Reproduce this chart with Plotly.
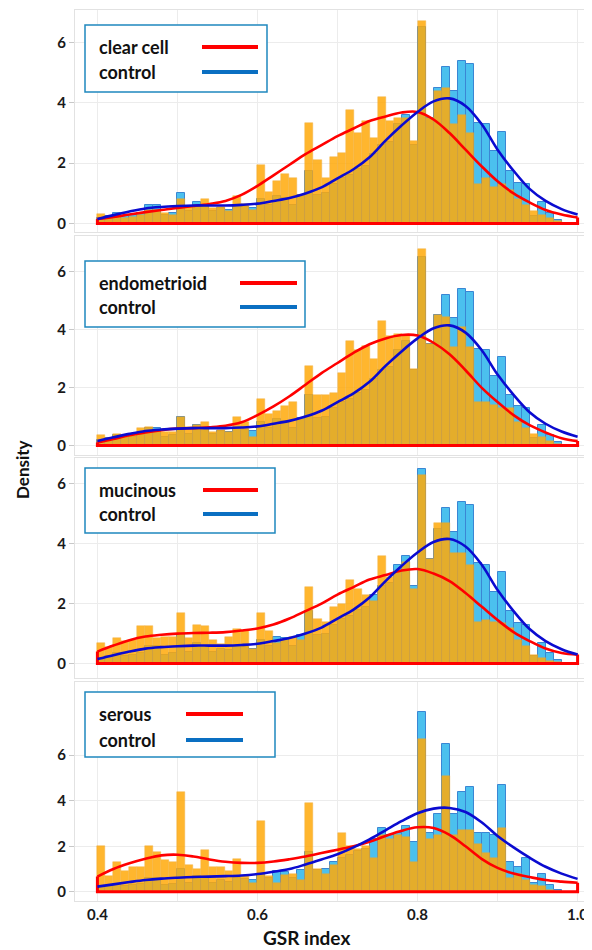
import plotly.graph_objects as go
from plotly.subplots import make_subplots

# ---------------- data ----------------
bin_left = [0.40, 0.41, 0.42, 0.43, 0.44, 0.45, 0.46, 0.47, 0.48, 0.49,
            0.50, 0.51, 0.52, 0.53, 0.54, 0.55, 0.56, 0.57, 0.58, 0.59,
            0.60, 0.61, 0.62, 0.63, 0.64, 0.65, 0.66, 0.67, 0.68, 0.69,
            0.70, 0.71, 0.72, 0.73, 0.74, 0.75, 0.76, 0.77, 0.78, 0.79,
            0.80, 0.81, 0.82, 0.83, 0.84, 0.85, 0.86, 0.87, 0.88, 0.89,
            0.90, 0.91, 0.92, 0.93, 0.94, 0.95, 0.96, 0.97, 0.98, 0.99]
bin_width = 0.01

control_hist = [0.2, 0.25, 0.35, 0.25, 0.3, 0.35, 0.6, 0.6, 0.3, 0.35,
                1.0, 0.4, 0.7, 0.6, 0.4, 0.5, 0.45, 0.6, 0.55, 0.5,
                0.8, 0.6, 0.9, 0.85, 0.6, 0.95, 1.75, 0.95, 1.0, 1.3,
                1.5, 1.6, 1.8, 1.9, 2.3, 2.6, 2.7, 3.3, 3.6, 2.6,
                6.5, 3.5, 4.5, 5.2, 4.4, 5.4, 5.3, 3.35, 3.3, 2.4,
                3.05, 1.75, 1.35, 1.3, 0.25, 0.7, 0.35, 0.12, 0.0, 0.0]

control_hist_serous = [0.2, 0.25, 0.35, 0.25, 0.3, 0.35, 0.6, 0.6, 0.3, 0.35,
                       1.0, 0.4, 0.7, 0.6, 0.4, 0.5, 0.45, 0.6, 0.55, 0.5,
                       0.8, 0.6, 0.9, 0.85, 0.6, 0.95, 1.75, 0.95, 1.0, 1.3,
                       1.5, 1.6, 1.8, 1.9, 2.3, 2.8, 2.5, 2.6, 2.9, 2.2,
                       7.9, 2.6, 3.4, 6.5, 3.4, 4.4, 4.6, 2.6, 2.6, 2.5,
                       4.7, 1.3, 1.1, 1.5, 0.4, 0.8, 0.3, 0.1, 0.0, 0.0]

clear_cell_hist = [0.32, 0.2, 0.27, 0.2, 0.22, 0.3, 0.45, 0.45, 0.35, 0.3,
                   0.8, 0.55, 0.6, 0.8, 0.5, 0.55, 0.4, 0.9, 0.65, 0.45,
                   1.95, 1.05, 1.42, 1.63, 1.52, 0.95, 3.35, 2.1, 1.5, 2.2,
                   2.35, 3.75, 3.0, 3.4, 2.85, 4.2, 3.4, 3.5, 3.5, 2.75,
                   6.7, 3.5, 4.4, 4.5, 3.3, 3.6, 3.0, 1.3, 1.5, 1.2,
                   1.3, 1.1, 0.8, 0.6, 0.4, 0.3, 0.2, 0.1, 0.0, 0.0]

endometrioid_hist = [0.35, 0.25, 0.4, 0.3, 0.35, 0.6, 0.65, 0.5, 0.45, 0.45,
                     1.0, 0.65, 0.7, 0.8, 0.45, 0.55, 0.45, 1.0, 0.8, 0.3,
                     1.6, 1.1, 1.2, 1.35, 1.5, 0.9, 2.75, 1.75, 1.75, 1.8,
                     2.5, 3.6, 3.3, 3.45, 3.0, 4.3, 3.8, 3.85, 3.8, 2.65,
                     6.8, 3.5, 4.5, 4.45, 3.4, 4.1, 3.4, 1.5, 1.5, 1.4,
                     1.3, 1.3, 0.8, 0.6, 0.4, 0.3, 0.15, 0.05, 0.0, 0.0]

mucinous_hist = [0.7, 0.55, 0.85, 0.75, 0.8, 1.25, 1.25, 0.85, 0.9, 0.9,
                 1.7, 0.85, 1.3, 1.25, 0.8, 0.65, 0.9, 1.15, 1.1, 0.5,
                 1.7, 1.1, 0.7, 0.8, 0.9, 0.8, 2.55, 1.5, 1.4, 1.9,
                 2.0, 2.8, 2.5, 2.3, 2.1, 3.6, 2.9, 3.1, 3.4, 2.5,
                 6.3, 3.5, 4.7, 4.7, 3.7, 3.7, 3.3, 1.4, 1.45, 1.4,
                 1.35, 1.2, 0.8, 0.6, 0.3, 0.2, 0.1, 0.05, 0.0, 0.0]

serous_hist = [2.0, 0.7, 1.3, 0.9, 1.1, 1.1, 2.0, 1.75, 1.4, 1.3,
               4.4, 1.2, 1.0, 1.85, 1.1, 1.1, 0.9, 1.45, 0.7, 0.4,
               3.1, 0.7, 0.4, 0.75, 0.8, 0.5, 3.9, 1.0, 0.8, 1.2,
               2.6, 2.0, 1.9, 2.0, 1.5, 2.5, 2.3, 2.5, 2.4, 1.3,
               6.7, 2.3, 2.5, 5.1, 2.5, 2.7, 2.7, 2.1, 1.7, 1.5,
               2.8, 0.6, 0.8, 0.5, 0.3, 0.25, 0.1, 0.05, 0.0, 0.0]

kde_x = [0.40, 0.42, 0.44, 0.46, 0.48, 0.50, 0.52, 0.54, 0.56, 0.58,
         0.60, 0.62, 0.64, 0.66, 0.68, 0.70, 0.72, 0.74, 0.76, 0.78,
         0.80, 0.82, 0.84, 0.86, 0.88, 0.90, 0.92, 0.94, 0.96, 0.98, 1.00]

control_kde = [0.15, 0.28, 0.4, 0.5, 0.55, 0.58, 0.6, 0.6, 0.6, 0.62,
               0.66, 0.75, 0.85, 1.0, 1.2, 1.5, 1.8, 2.2, 2.75, 3.25,
               3.7, 4.05, 4.15, 3.9, 3.3, 2.45, 1.75, 1.15, 0.75, 0.48, 0.3]

control_kde_serous = [0.23, 0.33, 0.43, 0.52, 0.58, 0.62, 0.65, 0.67, 0.69, 0.72,
                      0.78, 0.88, 1.0, 1.2, 1.42, 1.65, 1.95, 2.3, 2.7, 3.1,
                      3.45, 3.65, 3.68, 3.5, 3.05, 2.45, 1.95, 1.5, 1.1, 0.8, 0.57]

clear_cell_kde = [0.15, 0.22, 0.3, 0.38, 0.45, 0.52, 0.58, 0.65, 0.75, 0.95,
                  1.25, 1.6, 1.95, 2.3, 2.6, 2.9, 3.15, 3.4, 3.55, 3.68,
                  3.7, 3.45, 3.0, 2.45, 1.9, 1.4, 1.0, 0.7, 0.45, 0.3, 0.2]

endometrioid_kde = [0.1, 0.22, 0.35, 0.45, 0.53, 0.58, 0.6, 0.63, 0.68, 0.8,
                    1.05, 1.35, 1.7, 2.1, 2.5, 2.85, 3.2, 3.5, 3.7, 3.82,
                    3.8, 3.55, 3.15, 2.6, 2.0, 1.5, 1.05, 0.7, 0.45, 0.25, 0.15]

mucinous_kde = [0.4, 0.6, 0.78, 0.9, 0.96, 1.0, 1.02, 1.03, 1.05, 1.1,
                1.17, 1.3, 1.5, 1.75, 2.0, 2.3, 2.55, 2.8, 2.95, 3.1,
                3.15, 3.0, 2.75, 2.35, 1.9, 1.45, 1.05, 0.75, 0.5, 0.35, 0.3]

serous_kde = [0.67, 1.0, 1.25, 1.45, 1.6, 1.63, 1.55, 1.42, 1.32, 1.27,
              1.27, 1.33, 1.43, 1.55, 1.7, 1.85, 2.0, 2.2, 2.45, 2.68,
              2.83, 2.8, 2.5, 2.0, 1.45, 1.05, 0.8, 0.65, 0.52, 0.45, 0.4]

subtype_names = ["clear cell", "endometrioid", "mucinous", "serous"]
control_name = "control"

x_tick_vals = [0.4, 0.5, 0.6, 0.7, 0.8, 0.9, 1.0]
x_tick_text = ["0.4", "", "0.6", "", "0.8", "", "1.0"]
y_tick_vals = [0, 2, 4, 6]
y_tick_text = ["0", "2", "4", "6"]

# ---------------- layout helpers ----------------
# The page body adds an 8px margin; the figure is sized so it still fits 592x950.
OFF = 8
W, H = 592 - OFF, 950 - OFF
ML, MR, MT, MB = 75 - OFF, 0, 10 - OFF, 49
PW, PH = W - ML - MR, H - MT - MB
BOTTOM = H - MB + OFF  # window y of the plotting-area bottom


def fx(px):  # px in window coordinates
    return (px - OFF - ML) / PW


def fy(py):  # py in window coordinates
    return (BOTTOM - py) / PH


panel_px = [(10, 232), (236, 455), (458, 678), (682, BOTTOM)]
panel_yrange = [(-0.28, 7.08), (-0.33, 7.24), (-0.48, 6.85), (-0.4, 9.2)]

panels = [
    (clear_cell_hist, control_hist, clear_cell_kde, control_kde),
    (endometrioid_hist, control_hist, endometrioid_kde, control_kde),
    (mucinous_hist, control_hist, mucinous_kde, control_kde),
    (serous_hist, control_hist_serous, serous_kde, control_kde_serous),
]

FONT = "Lato"
RED = "#FF0000"
BLUE_CURVE = "#0B0BD0"
BLUE_LEG = "#0A6FC2"

fig = make_subplots(rows=4, cols=1, shared_xaxes=True, vertical_spacing=0.004)

for i, (sub_h, ctl_h, sub_k, ctl_k) in enumerate(panels, start=1):
    fig.add_trace(go.Bar(x=bin_left, y=ctl_h, width=bin_width, offset=0,
                         marker=dict(color="#4BC0EE", line=dict(color="#3A86D4", width=1)),
                         showlegend=False), row=i, col=1)
    fig.add_trace(go.Bar(x=bin_left, y=sub_h, width=bin_width, offset=0,
                         marker=dict(color="#FFAA0A", line=dict(color="#F2A72A", width=0.5)),
                         opacity=0.85, showlegend=False), row=i, col=1)
    # closing outline of the subtype density (sides + baseline)
    fig.add_trace(go.Scatter(x=[kde_x[0], kde_x[0], kde_x[-1], kde_x[-1]],
                             y=[sub_k[0], 0, 0, sub_k[-1]], mode="lines",
                             line=dict(color=RED, width=3), showlegend=False), row=i, col=1)
    fig.add_trace(go.Scatter(x=kde_x, y=sub_k, mode="lines", line_shape="spline",
                             line=dict(color=RED, width=2.6), showlegend=False), row=i, col=1)
    fig.add_trace(go.Scatter(x=kde_x, y=ctl_k, mode="lines", line_shape="spline",
                             line=dict(color=BLUE_CURVE, width=2.6), showlegend=False), row=i, col=1)

tickfont = dict(family=FONT, size=15, color="#1a1a1a", weight="bold")

for i in range(1, 5):
    top, bot = panel_px[i - 1]
    xa = "xaxis" if i == 1 else f"xaxis{i}"
    ya = "yaxis" if i == 1 else f"yaxis{i}"
    fig.layout[xa].update(range=[0.372, 1.018], tickvals=x_tick_vals, ticktext=x_tick_text,
                          showgrid=True, gridcolor="#ECECEC", gridwidth=1, zeroline=False,
                          showticklabels=(i == 4), tickfont=tickfont, ticks="",
                          showline=True, linecolor="#E2E2E2", linewidth=1, mirror=True,
                          automargin=False)
    fig.layout[ya].update(domain=[fy(bot), fy(top)], range=list(panel_yrange[i - 1]),
                          tickvals=y_tick_vals, ticktext=y_tick_text,
                          showgrid=True, gridcolor="#ECECEC", gridwidth=1, zeroline=False,
                          tickfont=tickfont, ticks="outside", ticklen=5, tickcolor="#C8C8C8",
                          showline=True, linecolor="#E2E2E2", linewidth=1, mirror=True,
                          automargin=False)

# ---------------- legend boxes (drawn) ----------------
legend_boxes = [  # left, top, right, bottom, line x0, line x1, row1 y, row2 y
    (85, 25, 267, 92, 202, 258, 47, 72),
    (85, 261, 305, 327, 240, 297, 283, 307),
    (85, 468, 275, 533, 203, 258, 490, 514),
    (85, 692, 275, 757, 186, 243, 714, 740),
]
shapes = []
annotations = []
for (l, t, r, b, lx0, lx1, y1, y2), nm in zip(legend_boxes, subtype_names):
    shapes.append(dict(type="rect", xref="paper", yref="paper", x0=fx(l), x1=fx(r),
                       y0=fy(b), y1=fy(t), line=dict(color="#1F88BE", width=1.5),
                       fillcolor="white", layer="above"))
    shapes.append(dict(type="line", xref="paper", yref="paper", x0=fx(lx0), x1=fx(lx1),
                       y0=fy(y1), y1=fy(y1), line=dict(color=RED, width=4), layer="above"))
    shapes.append(dict(type="line", xref="paper", yref="paper", x0=fx(lx0), x1=fx(lx1),
                       y0=fy(y2), y1=fy(y2), line=dict(color=BLUE_LEG, width=4), layer="above"))
    for txt, yy in ((nm, y1), (control_name, y2)):
        annotations.append(dict(text=txt, xref="paper", yref="paper", x=fx(97), y=fy(yy),
                                xanchor="left", yanchor="middle", showarrow=False,
                                font=dict(family=FONT, size=18, color="#111111", weight="bold")))

annotations.append(dict(text="Density", xref="paper", yref="paper", x=fx(22), y=fy(470),
                        textangle=-90, showarrow=False, xanchor="center", yanchor="middle",
                        font=dict(family=FONT, size=17, color="#111111", weight="bold")))
annotations.append(dict(text="GSR index", xref="paper", yref="paper", x=fx(306), y=fy(938),
                        showarrow=False, xanchor="center", yanchor="middle",
                        font=dict(family=FONT, size=19, color="#111111", weight="bold")))

fig.update_layout(width=W, height=H, margin=dict(l=ML, r=MR, t=MT, b=MB),
                  barmode="overlay", bargap=0, plot_bgcolor="white", paper_bgcolor="white",
                  showlegend=False, shapes=shapes, annotations=annotations)

fig.write_html("out.html")
